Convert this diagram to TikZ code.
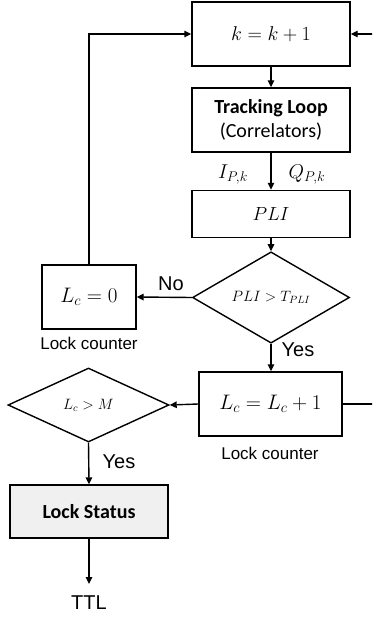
\documentclass[tikz,border=0pt]{standalone}
\usepackage{fix-cm}
\usepackage{fontspec}
\setmainfont{Carlito}
\newfontfamily\arialf{Liberation Sans}
\usetikzlibrary{shapes.geometric,arrows.meta}
\begin{document}
\begin{tikzpicture}[x=1pt,y=-1pt,
  line width=1.4pt,
  box/.style={draw,rectangle,inner sep=0pt,line width=1.4pt},
  dia/.style={draw,diamond,inner sep=0pt,line width=1.4pt},
  arr/.style={-{Triangle[length=7pt,width=6.5pt]}},
  lbl/.style={font=\arialf\fontsize{20}{22}\selectfont,inner sep=0pt},
  cnt/.style={font=\arialf\fontsize{17}{19}\selectfont,inner sep=0pt},
  mbig/.style={font=\fontsize{20}{22}\selectfont},
  msmall/.style={font=\fontsize{15}{17}\selectfont}]
\useasboundingbox (0,0) rectangle (372,617);
\clip (0,0) rectangle (372,617);
\node[box,minimum width=158pt,minimum height=64pt,mbig] (k) at (271,34) {$k=k+1$};
\node[box,minimum width=158pt,minimum height=64pt,align=center,font=\fontsize{20}{24}\selectfont] (track) at (271,120) {\textbf{Tracking Loop}\\(Correlators)};
\node[box,minimum width=158pt,minimum height=47pt,font=\fontsize{19}{22}\selectfont] (pli) at (271,214) {$PLI$};
\node[dia,minimum width=157pt,minimum height=73pt,msmall] (d1) at (271,297.5) {$PLI>T_{PLI}$};
\node[box,minimum width=94pt,minimum height=64pt,font=\fontsize{21}{23}\selectfont] (lc0) at (89,297) {$L_c=0$};
\node[box,minimum width=143pt,minimum height=64pt,font=\fontsize{21}{23}\selectfont] (lcp) at (270.5,404) {$L_c=L_c+1$};
\node[dia,minimum width=161pt,minimum height=74pt,msmall] (d2) at (88.5,405) {$L_c>M$};
\node[box,minimum width=158pt,minimum height=53pt,fill=black!6,font=\fontsize{20}{23}\selectfont] (ls) at (89,511.5) {\textbf{Lock Status}};
\node[lbl] (ttl) at (89,603) {TTL};
\node[cnt] (lcn1) at (89,343) {Lock counter};
\node[cnt] (lcn2) at (270,453) {Lock counter};
\node[lbl] (no) at (171,284) {No};
\node[lbl] (yes1) at (298,350) {Yes};
\node[lbl] (yes2) at (119,462) {Yes};
\node[mbig,inner sep=0pt] (ip) at (233,175) {$I_{P,k}$};
\node[mbig,inner sep=0pt] (qp) at (307,175) {$Q_{P,k}$};
\coordinate (rt) at (390,404);
\coordinate (rk) at (390,34);
\coordinate (ttltip) at (89,584);
\draw[arr] (k) -- (track);
\draw[arr] (track) -- (pli);
\draw[arr] (pli) -- (d1);
\draw[arr] (d1.west) -- (lc0.east);
\draw[arr] (lc0.north) |- (k.west);
\draw[arr] (d1.south) -- (d1.south |- lcp.north);
\draw[arr] (lcp.west) -- (d2.east);
\draw[arr] (lcp.east) -- (rt) -- (rk) -- (k.east);
\draw[arr] (d2.south) -- (ls.north);
\draw[arr] (ls.south) -- (ttltip);
\end{tikzpicture}
\end{document}
